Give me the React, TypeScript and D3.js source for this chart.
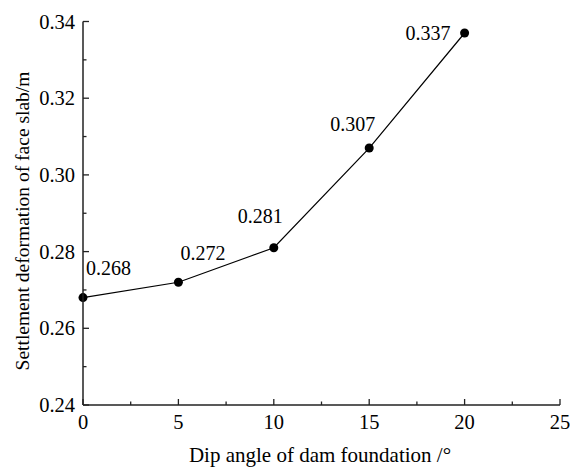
import React from "react";
import * as d3 from "d3";

const angles = [0, 5, 10, 15, 20];
const settlement = [0.268, 0.272, 0.281, 0.307, 0.337];
const labels = ["0.268", "0.272", "0.281", "0.307", "0.337"];
const xTicks = [0, 5, 10, 15, 20, 25];
const yTicks = [0.24, 0.26, 0.28, 0.3, 0.32, 0.34];
const xMinor = [2.5, 7.5, 12.5, 17.5, 22.5];
const yMinor = [0.25, 0.27, 0.29, 0.31, 0.33];
const xTitle = "Dip angle of dam foundation /°";
const yTitle = "Settlement deformation of face slab/m";

// label offsets [dx, dy, anchor]
const labelPos: [number, number, string][] = [
  [3, -22.5, "start"],
  [2, -22.5, "start"],
  [9, -25, "end"],
  [6, -17, "end"],
  [-14, 7, "end"],
];

const FONT = "Liberation Serif, Times New Roman, serif";

export default function App() {
  const W = 570, H = 471;
  const left = 83, right = 560, top = 21.5, bottom = 405;
  const x = d3.scaleLinear().domain([0, 25]).range([left, right]);
  const y = d3.scaleLinear().domain([0.24, 0.34]).range([bottom, top]);
  const line = d3.line<number>().x((_, i) => x(angles[i])).y((d) => y(d));
  const ts = (size: number) => ({ fontFamily: FONT, fontSize: size + "px" });
  return (
    <svg width={W} height={H} style={{ position: "absolute", left: 0, top: 0 }}>
      <rect width={W} height={H} fill="#fff" />
      <path d={line(settlement) || ""} fill="none" stroke="#000" strokeWidth={1.2} />
      {settlement.map((v, i) => (
        <circle key={i} cx={x(angles[i])} cy={y(v)} r={4.5} fill="#000" />
      ))}
      {settlement.map((v, i) => (
        <text key={"l" + i} x={x(angles[i]) + labelPos[i][0]} y={y(v) + labelPos[i][1]}
          textAnchor={labelPos[i][2] as any} style={ts(20)} fill="#000">{labels[i]}</text>
      ))}
      <line x1={left} x2={left} y1={top} y2={bottom} stroke="#222" strokeWidth={1.5} />
      <line x1={left} x2={right} y1={bottom} y2={bottom} stroke="#222" strokeWidth={1.5} />
      {xTicks.map((t) => (
        <g key={"x" + t}>
          <line x1={x(t)} x2={x(t)} y1={bottom} y2={bottom - 6} stroke="#222" strokeWidth={1.3} />
          <text x={x(t)} y={429} textAnchor="middle" style={ts(20.5)}>{t}</text>
        </g>
      ))}
      {xMinor.map((t) => (
        <line key={"xm" + t} x1={x(t)} x2={x(t)} y1={bottom} y2={bottom - 3.5} stroke="#222" strokeWidth={1.3} />
      ))}
      {yTicks.map((t) => (
        <g key={"y" + t}>
          <line x1={left} x2={left + 6} y1={y(t)} y2={y(t)} stroke="#222" strokeWidth={1.3} />
          <text x={left - 8} y={y(t) + 7} textAnchor="end" style={ts(20.5)}>{t.toFixed(2)}</text>
        </g>
      ))}
      {yMinor.map((t) => (
        <line key={"ym" + t} x1={left} x2={left + 3.5} y1={y(t)} y2={y(t)} stroke="#222" strokeWidth={1.3} />
      ))}
      <text x={320} y={462} textAnchor="middle" style={ts(21)}>{xTitle}</text>
      <text transform={`translate(29, 221) rotate(-90)`} textAnchor="middle" style={ts(19.5)}>{yTitle}</text>
    </svg>
  );
}
